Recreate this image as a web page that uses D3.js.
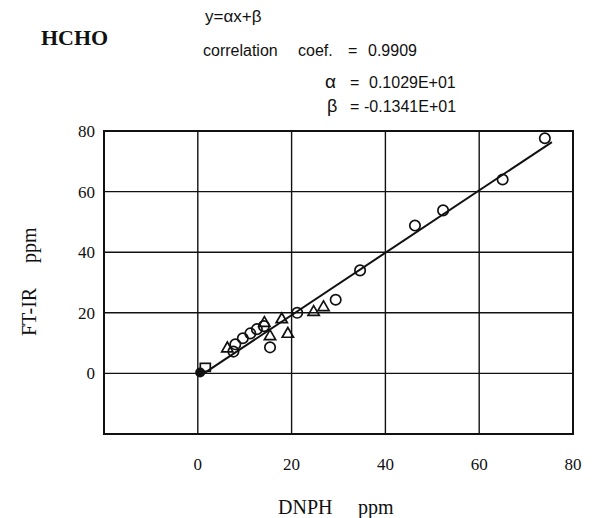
<!DOCTYPE html>
<html>
<head>
<meta charset="utf-8">
<script src="https://cdn.jsdelivr.net/npm/d3@7"></script>
<style>
body { margin: 0; background: #fff; }
svg text { fill: #111; }
.tick-label { font-family: "Liberation Serif", serif; font-size: 17px; }
</style>
</head>
<body>
<svg id="chart" width="598" height="518"></svg>
<script>
// tick labels
const xTicks = [0, 20, 40, 60, 80];
const yTicks = [0, 20, 40, 60, 80];

// data (DNPH ppm, FT-IR ppm)
const circleX = [74, 65, 52.3, 46.3, 34.6, 29.4, 21.2, 15.4, 7.6, 8.0, 9.6, 11.2, 12.6, 14.1];
const circleY = [77.6, 64, 53.8, 48.8, 34, 24.3, 20, 8.6, 7.2, 9.6, 11.6, 13.2, 14.6, 15.6];
const triX = [6.3, 14.2, 15.4, 19.2, 17.9, 24.7, 26.8];
const triY = [8.2, 16.6, 12.2, 13.0, 17.8, 20.2, 21.8];
const squareX = [1.6];
const squareY = [2.0];
const dotX = [0.5];
const dotY = [0.3];

// fit y = a x + b
const alpha = 1.029;
const beta = -1.341;
const fitRange = [0.5, 75.5];

const svg = d3.select("#chart");
const pLeft = 104, pRight = 573, pTop = 131, pBottom = 434;

const x = d3.scaleLinear().domain([-20, 80]).range([pLeft, pRight]);
const y = d3.scaleLinear().domain([-20, 80]).range([pBottom, pTop]);

// grid
const grid = svg.append("g").attr("stroke", "#111").attr("stroke-width", 1.4);
grid.selectAll(".gx").data(xTicks.slice(0, -1)).join("line")
    .attr("x1", d => x(d)).attr("x2", d => x(d))
    .attr("y1", pTop).attr("y2", pBottom);
grid.selectAll(".gy").data(yTicks.slice(0, -1)).join("line")
    .attr("x1", pLeft).attr("x2", pRight)
    .attr("y1", d => y(d)).attr("y2", d => y(d));
svg.append("rect")
    .attr("x", pLeft).attr("y", pTop)
    .attr("width", pRight - pLeft).attr("height", pBottom - pTop)
    .attr("fill", "none").attr("stroke", "#111").attr("stroke-width", 2);

// tick labels
svg.selectAll(".xt").data(xTicks).join("text")
    .attr("class", "tick-label")
    .attr("x", d => x(d)).attr("y", 470)
    .attr("text-anchor", "middle")
    .text(d => d);
svg.selectAll(".yt").data(yTicks).join("text")
    .attr("class", "tick-label")
    .attr("x", 95).attr("y", d => y(d) + 6)
    .attr("text-anchor", "end")
    .text(d => d);

// regression line
svg.append("line")
    .attr("x1", x(fitRange[0])).attr("y1", y(alpha * fitRange[0] + beta))
    .attr("x2", x(fitRange[1])).attr("y2", y(alpha * fitRange[1] + beta))
    .attr("stroke", "#111").attr("stroke-width", 2);

// markers
const marks = svg.append("g").attr("stroke", "#111").attr("stroke-width", 1.7).attr("fill", "none");
marks.selectAll(".c").data(d3.zip(circleX, circleY)).join("circle")
    .attr("cx", d => x(d[0])).attr("cy", d => y(d[1])).attr("r", 5.2);
const tri = d3.symbol().type(d3.symbolTriangle).size(55);
marks.selectAll(".t").data(d3.zip(triX, triY)).join("path")
    .attr("d", tri)
    .attr("transform", d => `translate(${x(d[0])},${y(d[1])})`);
marks.selectAll(".s").data(d3.zip(squareX, squareY)).join("rect")
    .attr("x", d => x(d[0]) - 5).attr("y", d => y(d[1]) - 4)
    .attr("width", 10).attr("height", 8);
svg.selectAll(".dot").data(d3.zip(dotX, dotY)).join("circle")
    .attr("cx", d => x(d[0])).attr("cy", d => y(d[1])).attr("r", 5)
    .attr("fill", "#111");

// header texts
svg.append("text").attr("x", 41).attr("y", 45)
    .attr("font-family", "Liberation Serif, serif").attr("font-weight", "bold")
    .attr("font-size", 22).text("HCHO");

const sans = "Liberation Sans, Arial, sans-serif";
const label = (tx, ty, s, size) => svg.append("text")
    .attr("x", tx).attr("y", ty)
    .attr("font-family", sans).attr("font-size", size || 16)
    .text(s);
label(205, 22, "y=αx+β", 17);
label(203, 56, "correlation");
label(298, 56, "coef.");
label(348, 56, "=");
label(368, 56, "0.9909");
label(325, 88, "α", 19);
label(350, 88, "=");
label(369, 88, "0.1029E+01");
label(327, 112, "β", 18);
label(350, 112, "=");
label(364, 112, "-0.1341E+01");

// axis titles
const serif = "Liberation Serif, serif";
svg.append("text").attr("x", 278).attr("y", 514)
    .attr("font-family", serif).attr("font-size", 20).text("DNPH");
svg.append("text").attr("x", 358).attr("y", 514)
    .attr("font-family", serif).attr("font-size", 20).text("ppm");
svg.append("text")
    .attr("transform", "translate(36,336) rotate(-90)")
    .attr("font-family", serif).attr("font-size", 20).text("FT-IR");
svg.append("text")
    .attr("transform", "translate(36,263) rotate(-90)")
    .attr("font-family", serif).attr("font-size", 20).text("ppm");
</script>
</body>
</html>
